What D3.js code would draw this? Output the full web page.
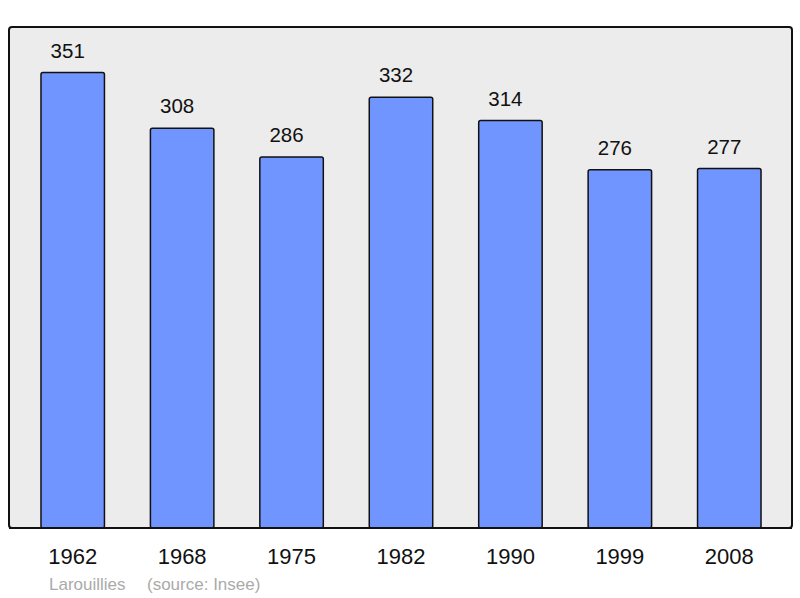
<!DOCTYPE html>
<html lang="en">
<head>
<meta charset="utf-8">
<title>Larouillies population</title>
<script src="https://d3js.org/d3.v7.min.js"></script>
<style>
  body { margin: 0; background: #fff; font-family: "Liberation Sans", Arial, sans-serif; }
</style>
</head>
<body>
<script>
// data
var years = ["1962", "1968", "1975", "1982", "1990", "1999", "2008"];
var population = [351, 308, 286, 332, 314, 276, 277];
var commune = "Larouillies";
var source = "(source: Insee)";

var width = 800, height = 598;
var panel = { left: 9, top: 27, right: 792, bottom: 528 };

var svg = d3.select("body").append("svg")
    .attr("width", width)
    .attr("height", height);

// background panel
svg.append("rect")
    .attr("x", panel.left)
    .attr("y", panel.top)
    .attr("width", panel.right - panel.left)
    .attr("height", panel.bottom - panel.top)
    .attr("rx", 3)
    .attr("fill", "#ececec")
    .attr("stroke", "#111")
    .attr("stroke-width", 2);

var x = d3.scaleBand()
    .domain(years)
    .range([18, 784])
    .paddingInner(0.42)
    .paddingOuter(0.21);

var y = d3.scaleLinear()
    .domain([0, d3.max(population) * 1.1])
    .range([panel.bottom, panel.top]);

var bars = svg.selectAll(".bar")
    .data(years)
    .enter()
    .append("g")
    .attr("class", "bar");

bars.append("rect")
    .attr("x", function(d) { return x(d); })
    .attr("y", function(d, i) { return y(population[i]); })
    .attr("width", x.bandwidth())
    .attr("height", function(d, i) { return panel.bottom - y(population[i]); })
    .attr("rx", 2)
    .attr("fill", "#7095ff")
    .attr("stroke", "#111")
    .attr("stroke-width", 1.5);

// value above each bar (sits a little left of centre in the original)
bars.append("text")
    .attr("x", function(d) { return x(d) + x.bandwidth() / 2 - 5; })
    .attr("y", function(d, i) { return y(population[i]) - 15; })
    .attr("text-anchor", "middle")
    .attr("font-size", 20.5)
    .attr("fill", "#111")
    .text(function(d, i) { return population[i]; });

// year labels
bars.append("text")
    .attr("x", function(d) { return x(d) + x.bandwidth() / 2; })
    .attr("y", 564)
    .attr("text-anchor", "middle")
    .attr("font-size", 22)
    .attr("fill", "#111")
    .text(function(d) { return d; });

// redraw bottom border on top so bars sit inside it
svg.append("line")
    .attr("x1", panel.left).attr("x2", panel.right)
    .attr("y1", panel.bottom).attr("y2", panel.bottom)
    .attr("stroke", "#111")
    .attr("stroke-width", 2);

svg.append("text")
    .attr("x", 49)
    .attr("y", 590)
    .attr("font-size", 17)
    .attr("fill", "#aaa")
    .text(commune);

svg.append("text")
    .attr("x", 147)
    .attr("y", 590)
    .attr("font-size", 17)
    .attr("fill", "#aaa")
    .text(source);
</script>
</body>
</html>
